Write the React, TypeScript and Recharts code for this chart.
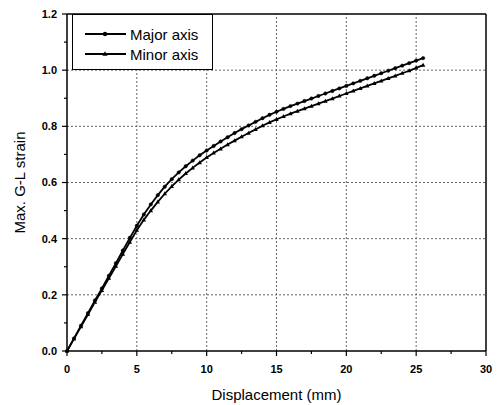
import { Legend, Line, LineChart, ReferenceLine, XAxis, YAxis } from 'recharts'

const displacement = [
  0, 0.5, 1, 1.5, 2, 2.5, 3, 3.5, 4, 4.5, 5, 5.5, 6, 6.5, 7, 7.5, 8, 8.5, 9, 9.5, 10, 10.5, 11, 11.5, 12,
  12.5, 13, 13.5, 14, 14.5, 15, 15.5, 16, 16.5, 17, 17.5, 18, 18.5, 19, 19.5, 20, 20.5, 21, 21.5, 22,
  22.5, 23, 23.5, 24, 24.5, 25, 25.5,
]

const majorAxis = [
  0, 0.045, 0.09, 0.135, 0.18, 0.223, 0.268, 0.313, 0.358, 0.403, 0.446, 0.486, 0.522, 0.555, 0.585, 0.612,
  0.636, 0.658, 0.678, 0.697, 0.714, 0.73, 0.746, 0.761, 0.776, 0.79, 0.803, 0.816, 0.829, 0.841, 0.852,
  0.862, 0.872, 0.881, 0.89, 0.899, 0.908, 0.917, 0.926, 0.935, 0.944, 0.953, 0.962, 0.971, 0.98, 0.989,
  0.998, 1.007, 1.016, 1.025, 1.034, 1.043,
]

const minorAxis = [
  0, 0.043, 0.087, 0.13, 0.174, 0.216, 0.259, 0.302, 0.345, 0.388, 0.43, 0.467, 0.5, 0.531, 0.56, 0.586,
  0.61, 0.632, 0.652, 0.671, 0.689, 0.705, 0.72, 0.735, 0.749, 0.763, 0.776, 0.789, 0.802, 0.814, 0.825,
  0.835, 0.845, 0.854, 0.863, 0.872, 0.881, 0.89, 0.899, 0.908, 0.917, 0.926, 0.935, 0.944, 0.953, 0.962,
  0.971, 0.98, 0.989, 0.998, 1.008, 1.018,
]

const xTicks = [0, 2.5, 5, 7.5, 10, 12.5, 15, 17.5, 20, 22.5, 25, 27.5, 30]
const yTicks = [0, 0.1, 0.2, 0.3, 0.4, 0.5, 0.6, 0.7, 0.8, 0.9, 1.0, 1.1, 1.2]
const xGrid = [5, 10, 15, 20, 25]
const yGrid = [0.2, 0.4, 0.6, 0.8, 1.0]

const data = displacement.map((d, i) => ({ d, major: majorAxis[i], minor: minorAxis[i] }))

const FONT = '"Liberation Sans", Arial, sans-serif'

// bottom ticks: label y = axis + tickSize(5) + tickMargin(9)
function XTick({ x, y, payload }: any) {
  const major = payload.value % 5 === 0
  const axisY = y - 14
  return (
    <g>
      <line x1={x} x2={x} y1={axisY} y2={axisY + (major ? 5 : 3)} stroke="#000" strokeWidth={1.2} />
      {major && (
        <text x={x} y={y} dy="0.71em" textAnchor="middle" fontSize={11} fontWeight="bold" fill="#000" fontFamily={FONT}>
          {payload.value}
        </text>
      )}
    </g>
  )
}

function YTick({ x, y, payload }: any) {
  const major = Math.round(payload.value * 10) % 2 === 0
  const axisX = x + 10
  return (
    <g>
      <line x1={axisX} x2={axisX - (major ? 5 : 3)} y1={y} y2={y} stroke="#000" strokeWidth={1.2} />
      {major && (
        <text x={x} y={y} dy="0.36em" textAnchor="end" fontSize={11} fontWeight="bold" fill="#000" fontFamily={FONT}>
          {payload.value.toFixed(1)}
        </text>
      )}
    </g>
  )
}

function TriangleDot(props: any) {
  const { cx, cy } = props
  if (cx == null || cy == null) return null
  return <path key={props.key ?? `t-${cx}-${cy}`} d={`M${cx},${cy - 2.4}L${cx + 2.2},${cy + 1.6}L${cx - 2.2},${cy + 1.6}Z`} fill="#000" />
}

function renderLegend(props: any) {
  const items = props.payload || []
  return (
    <div
      style={{
        width: 139,
        height: 54,
        border: '1px solid #000',
        background: '#fff',
        fontFamily: FONT,
        fontSize: 15,
        color: '#000',
      }}
    >
      {items.map((entry: any, i: number) => (
        <div key={entry.value} style={{ position: 'absolute', left: 0, top: 10 + i * 20, height: 20, display: 'flex', alignItems: 'center' }}>
          <svg width={58} height={20}>
            <line x1={13} x2={54} y1={10} y2={10} stroke="#000" strokeWidth={2} />
            {entry.dataKey === 'major' ? (
              <circle cx={33} cy={10} r={2.2} fill="#000" />
            ) : (
              <path d="M33,7.3L35.6,11.8L30.4,11.8Z" fill="#000" />
            )}
          </svg>
          <span>{entry.value}</span>
        </div>
      ))}
    </div>
  )
}

export default function App() {
  return (
    <div style={{ position: 'absolute', left: 0, top: 0, background: '#fff' }}>
      <LineChart width={499} height={405} data={data} margin={{ top: 14, right: 13, bottom: 4, left: 10 }} style={{ fontFamily: FONT }}>
        {xGrid.map((v) => (
          <ReferenceLine key={`gx${v}`} x={v} stroke="#666" strokeDasharray="2 2" />
        ))}
        {yGrid.map((v) => (
          <ReferenceLine key={`gy${v}`} y={v} stroke="#666" strokeDasharray="2 2" />
        ))}
        <ReferenceLine y={1.2} stroke="#000" strokeWidth={1.5} />
        <ReferenceLine x={30} stroke="#000" strokeWidth={1.5} />
        <XAxis
          dataKey="d"
          type="number"
          domain={[0, 30]}
          ticks={xTicks}
          interval={0}
          height={50}
          tickSize={5}
          tickMargin={9}
          tickLine={false}
          tick={XTick}
          axisLine={{ stroke: '#000', strokeWidth: 1.5 }}
          label={{ value: 'Displacement (mm)', position: 'insideBottom', offset: 1, fill: '#000', fontSize: 15, fontFamily: FONT }}
        />
        <YAxis
          type="number"
          domain={[0, 1.2]}
          ticks={yTicks}
          interval={0}
          width={57}
          tickSize={5}
          tickMargin={5}
          tickLine={false}
          tick={YTick}
          axisLine={{ stroke: '#000', strokeWidth: 1.5 }}
          label={{
            value: 'Max. G-L strain',
            angle: -90,
            position: 'insideLeft',
            offset: 10,
            fill: '#000',
            fontSize: 15,
            fontFamily: FONT,
            style: { textAnchor: 'middle' },
          }}
        />
        <Legend
          layout="vertical"
          align="center"
          verticalAlign="middle"
          wrapperStyle={{ left: 72, top: 14, width: 'auto' }}
          content={renderLegend}
        />
        <Line
          name="Major axis"
          dataKey="major"
          type="linear"
          stroke="#000"
          strokeWidth={1.8}
          dot={{ r: 1.7, fill: '#000', stroke: '#000', strokeWidth: 0.5 }}
          isAnimationActive={false}
        />
        <Line
          name="Minor axis"
          dataKey="minor"
          type="linear"
          stroke="#000"
          strokeWidth={1.8}
          dot={TriangleDot}
          isAnimationActive={false}
        />
      </LineChart>
    </div>
  )
}
